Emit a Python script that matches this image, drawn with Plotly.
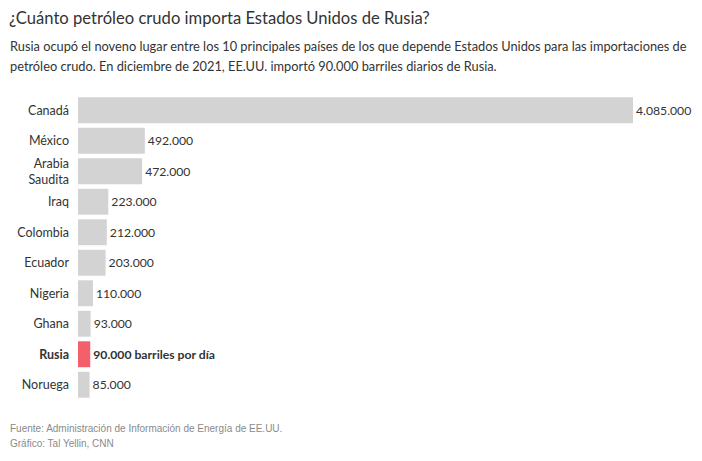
import plotly.graph_objects as go

countries = ["Canadá", "México", "Arabia<br>Saudita", "Iraq", "Colombia", "Ecuador", "Nigeria", "Ghana", "<b>Rusia</b>", "Noruega"]
values = [4085000, 492000, 472000, 223000, 212000, 203000, 110000, 93000, 90000, 85000]
labels = ["4.085.000", "492.000", "472.000", "223.000", "212.000", "203.000", "110.000", "93.000", "<b>90.000 barriles por día</b>", "85.000"]
colors = ["#d3d3d3"] * 8 + ["#f45f6c"] + ["#d3d3d3"]

FONT = "Lato, Roboto, sans-serif"

fig = go.Figure(go.Bar(
    y=list(range(len(countries))),
    x=values,
    orientation="h",
    marker=dict(color=colors, line=dict(width=0)),
    text=labels,
    textposition="outside",
    textfont=dict(family=FONT, size=12.2, color="#333333"),
    cliponaxis=False,
    hoverinfo="skip",
))

W, H = 702, 461
ml, mr, mt, mb = 78, 2, 95, 61
px_per_unit = (633 - 78) / 4085000
xmax = (W - ml - mr) / px_per_unit

fig.update_layout(
    width=W, height=H,
    margin=dict(l=ml, r=mr, t=mt, b=mb),
    paper_bgcolor="white", plot_bgcolor="white",
    bargap=0.15,
    showlegend=False,
    xaxis=dict(range=[0, xmax], visible=False, fixedrange=True),
    yaxis=dict(
        tickmode="array", tickvals=list(range(len(countries))), ticktext=countries,
        autorange="reversed", showgrid=False, zeroline=False, showline=False,
        ticks="", ticklabelstandoff=8,
        tickfont=dict(family=FONT, size=12.5, color="#333333"),
    ),
    annotations=[
        dict(text="¿Cuánto petróleo crudo importa Estados Unidos de Rusia?", x=7, y=H - 18,
             showarrow=False, xanchor="left", yanchor="middle",
             font=dict(family=FONT, size=16.6, color="#333333")),
        dict(text="Rusia ocupó el noveno lugar entre los 10 principales países de los que depende Estados Unidos para las importaciones de",
             x=8, y=H - 46, showarrow=False, xanchor="left", yanchor="middle",
             font=dict(family=FONT, size=12.8, color="#333333")),
        dict(text="petróleo crudo. En diciembre de 2021, EE.UU. importó 90.000 barriles diarios de Rusia.",
             x=8, y=H - 66, showarrow=False, xanchor="left", yanchor="middle",
             font=dict(family=FONT, size=12.8, color="#333333")),
        dict(text="Fuente: Administración de Información de Energía de EE.UU.",
             x=8, y=H - 428, showarrow=False, xanchor="left", yanchor="middle",
             font=dict(family="Liberation Sans, Arial, sans-serif", size=10, color="#8a8a8a")),
        dict(text="Gráfico: Tal Yellin, CNN",
             x=8, y=H - 443, showarrow=False, xanchor="left", yanchor="middle",
             font=dict(family="Liberation Sans, Arial, sans-serif", size=10, color="#8a8a8a")),
    ],
)
for a in fig.layout.annotations:
    a.xref = "paper"
    a.yref = "paper"
    a.x = (a.x - ml) / (W - ml - mr)
    a.y = (a.y - mb) / (H - mt - mb)

fig.write_html("out.html")
